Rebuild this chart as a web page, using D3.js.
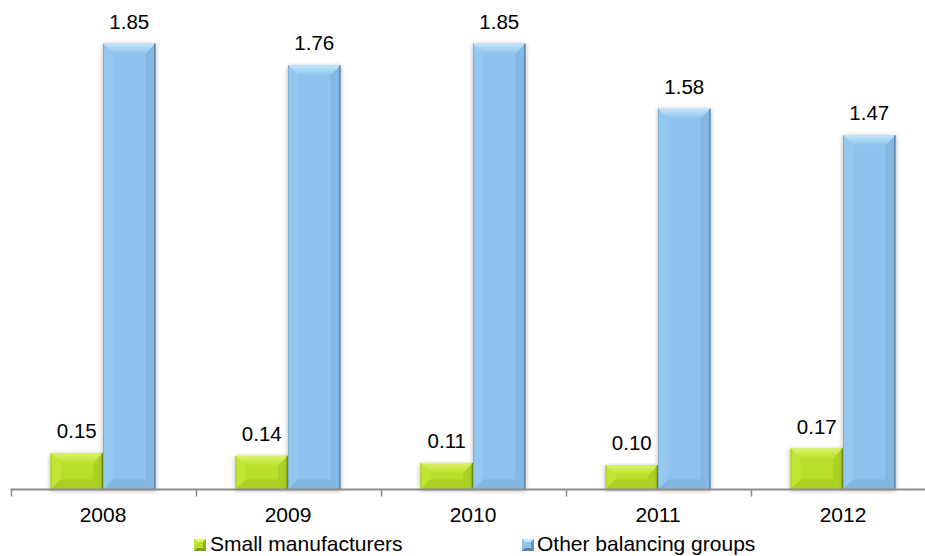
<!DOCTYPE html>
<html><head><meta charset="utf-8">
<script src="https://cdn.jsdelivr.net/npm/d3@7"></script>
<style>body{margin:0;background:#fff}svg{display:block}text{font-family:"Liberation Sans",Arial,sans-serif;fill:#000}</style>
</head><body><svg id="c" width="925" height="556"></svg>
<script>
const years = ["2008","2009","2010","2011","2012"];
const seriesNames = ["Small manufacturers","Other balancing groups"];
const smallManufacturers = [0.15,0.14,0.11,0.10,0.17];
const otherBalancingGroups = [1.85,1.76,1.85,1.58,1.47];
const valueLabels = [["0.15","0.14","0.11","0.10","0.17"],["1.85","1.76","1.85","1.58","1.47"]];
const seriesValues = [smallManufacturers, otherBalancingGroups];

const colors = [
  {id:"g", main:"#b8e02c", light:"#dcf36a", dark:"#9cc21f", edge:"#7f9e16", side:"#c0e535"},
  {id:"b", main:"#8dc3ee", light:"#c6e6fb", dark:"#7aaad3", edge:"#5b7ea0", side:"#94c8f0"}
];

const svg = d3.select("#c");
const defs = svg.append("defs");
const f = defs.append("filter").attr("id","sh").attr("x","-30%").attr("y","-10%").attr("width","160%").attr("height","120%");
f.append("feGaussianBlur").attr("in","SourceAlpha").attr("stdDeviation",2.5).attr("result","b");
f.append("feOffset").attr("in","b").attr("dx",0).attr("dy",1).attr("result","o");
f.append("feComponentTransfer").attr("in","o").attr("result","o2").append("feFuncA").attr("type","linear").attr("slope",0.3);
const m = f.append("feMerge"); m.append("feMergeNode").attr("in","o2"); m.append("feMergeNode").attr("in","SourceGraphic");
colors.forEach(c=>{
  const lg = defs.append("linearGradient").attr("id","top"+c.id).attr("x1",0).attr("y1",0).attr("x2",0).attr("y2",1);
  lg.append("stop").attr("offset",0).attr("stop-color",c.light);
  lg.append("stop").attr("offset",1).attr("stop-color",c.main);
});

const x0 = d3.scaleBand().domain(years).range([10.5,935.5]).paddingInner(0).paddingOuter(0);
const x1 = d3.scaleBand().domain(seriesNames).range([0,x0.bandwidth()]).paddingOuter(0.762).paddingInner(0);
const y = d3.scaleLinear().domain([0,2]).range([489.5,7.5]);

function bar(g, x, yTop, w, h, c){
  const b = Math.min(10, h/2.2, w/2);
  const grp = g.append("g").attr("filter","url(#sh)");
  const x2 = x+w, y2 = yTop+h;
  grp.append("rect").attr("x",x).attr("y",yTop).attr("width",w).attr("height",h).attr("fill",c.main);
  grp.append("path").attr("d",`M${x},${yTop}L${x2},${yTop}L${x2-b},${yTop+b}L${x+b},${yTop+b}Z`).attr("fill",`url(#top${c.id})`);
  grp.append("path").attr("d",`M${x},${yTop}L${x+b},${yTop+b}L${x+b},${y2-b}L${x},${y2}Z`).attr("fill",c.side);
  grp.append("path").attr("d",`M${x2},${yTop}L${x2-b},${yTop+b}L${x2-b},${y2-b}L${x2},${y2}Z`).attr("fill",c.dark).attr("opacity",0.45);
  grp.append("path").attr("d",`M${x},${y2}L${x+b},${y2-b}L${x2-b},${y2-b}L${x2},${y2}Z`).attr("fill",c.dark).attr("opacity",0.55);
  grp.append("rect").attr("x",x2-1.3).attr("y",yTop).attr("width",1.3).attr("height",h).attr("fill",c.edge);
  grp.append("rect").attr("x",x).attr("y",yTop).attr("width",1).attr("height",h).attr("fill",c.edge).attr("opacity",0.35);
}

const plot = svg.append("g");
years.forEach((yr,i)=>{
  seriesNames.forEach((s,j)=>{
    const v = seriesValues[j][i];
    const bx = x0(yr)+x1(s), bw = x1.bandwidth();
    bar(plot, bx, y(v), bw, y(0)-y(v), colors[j]);
    svg.append("text").attr("x",bx+bw/2).attr("y",y(v)-15).attr("text-anchor","middle")
      .attr("font-size","20.5px").text(valueLabels[j][i]);
  });
});

const ax = svg.append("g").attr("transform",`translate(0,${y(0)})`)
  .call(d3.axisBottom(x0).tickSize(0).tickFormat(d=>d));
ax.select(".domain").attr("d",`M10.5,0H935.5`).attr("stroke","#8c8c8c").attr("stroke-width",2);
ax.selectAll(".tick text").attr("font-size","21px").attr("dy",0).attr("y",32.5).attr("font-family","Liberation Sans, Arial, sans-serif").attr("fill","#000");
const tickPos = years.map(d=>x0(d)).concat([x0.range()[1]]);
ax.selectAll(".sep").data(tickPos).enter().append("line").attr("class","sep")
  .attr("x1",d=>Math.round(d)+0.5).attr("x2",d=>Math.round(d)+0.5).attr("y1",0).attr("y2",7)
  .attr("stroke","#8c8c8c").attr("stroke-width",1.5);

const legendPos = [{mx:194,tx:210},{mx:522,tx:537}];
seriesNames.forEach((s,j)=>{
  const c = colors[j], lp = legendPos[j];
  const mx=lp.mx, my=539, sz=12, b=3;
  const g = svg.append("g");
  g.append("rect").attr("x",mx).attr("y",my).attr("width",sz).attr("height",sz).attr("fill",c.main);
  g.append("path").attr("d",`M${mx},${my}L${mx+sz},${my}L${mx+sz-b},${my+b}L${mx+b},${my+b}Z`).attr("fill",c.light);
  g.append("path").attr("d",`M${mx},${my+sz}L${mx+b},${my+sz-b}L${mx+sz-b},${my+sz-b}L${mx+sz},${my+sz}Z`).attr("fill",c.edge);
  g.append("path").attr("d",`M${mx+sz},${my}L${mx+sz-b},${my+b}L${mx+sz-b},${my+sz-b}L${mx+sz},${my+sz}Z`).attr("fill",c.edge).attr("opacity",0.7);
  svg.append("text").attr("x",lp.tx).attr("y",551).attr("font-size","21px").text(s);
});
</script></body></html>
